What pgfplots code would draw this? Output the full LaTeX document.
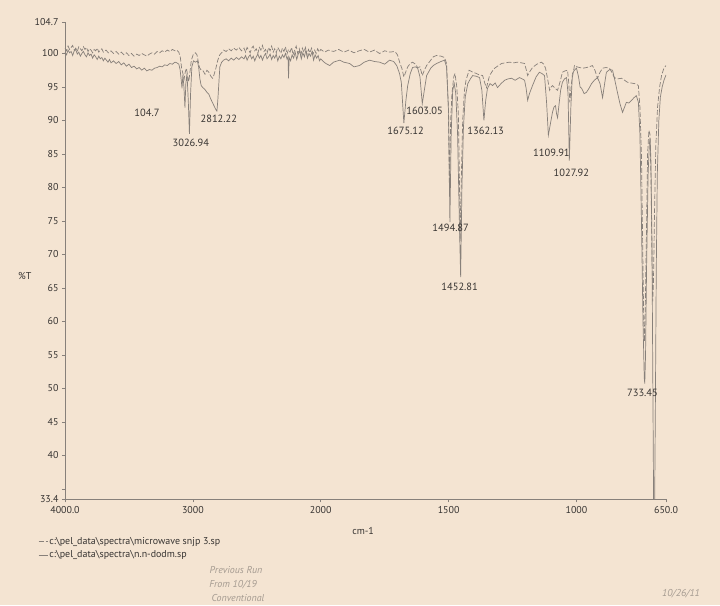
\documentclass[border=0pt]{standalone}
\usepackage{pgfplots}
\pgfplotsset{compat=1.18}
\usepackage{pgfplotstable}
\usepackage{fontspec}
\setmainfont{PT Sans}
\definecolor{bg}{RGB}{244,228,210}
\definecolor{tr}{RGB}{135,128,122}
\definecolor{txt}{RGB}{55,52,50}
\definecolor{hand}{RGB}{165,155,145}

\pgfplotstableread{
wn T
4000 100.2
3988 99.8
3976 100.5
3964 100.1
3952 100.3
3940 99.7
3928 100.4
3916 100.6
3904 99.9
3892 100.2
3880 99.6
3868 100.0
3856 100.3
3844 99.8
3832 99.5
3820 100.1
3808 99.7
3796 99.9
3784 99.3
3772 99.8
3760 99.5
3748 99.1
3736 99.6
3724 99.2
3712 99.4
3700 98.9
3688 99.3
3676 99.0
3664 98.7
3652 99.1
3640 98.6
3620 98.9
3600 98.5
3580 98.8
3560 98.3
3540 98.6
3520 98.1
3500 98.4
3480 97.9
3460 98.1
3440 97.7
3420 97.9
3400 97.5
3380 97.8
3360 97.4
3340 97.6
3320 97.5
3300 97.8
3280 97.9
3260 98.1
3240 98.0
3220 98.3
3200 98.2
3180 98.5
3160 98.4
3140 98.7
3125 98.6
3110 98.4
3100 97.6
3092 96.2
3085 94.8
3078 96.8
3070 95.0
3062 91.9
3055 95.5
3046 97.0
3036 93.0
3027 88.0
3018 94.0
3008 98.0
2995 98.9
2980 98.7
2965 98.9
2955 98.0
2945 96.2
2935 95.2
2922 94.9
2905 94.6
2890 94.2
2875 93.9
2860 93.2
2845 92.6
2830 92.0
2820 91.6
2812 91.4
2805 93.0
2797 95.5
2789 98.0
2775 98.7
2760 99.0
2740 99.2
2720 98.9
2700 99.3
2680 99.0
2660 99.4
2640 99.1
2620 99.5
2600 99.2
2588 99.7
2576 99.0
2564 99.5
2552 99.8
2540 99.2
2528 99.6
2516 98.9
2504 99.5
2492 99.9
2480 99.3
2468 99.7
2456 99.0
2444 99.6
2432 100.0
2420 99.2
2408 99.5
2396 99.9
2384 99.1
2372 99.7
2360 99.3
2348 99.9
2336 98.9
2324 99.6
2312 99.2
2300 99.8
2288 99.4
2276 100.0
2264 99.2
2256 99.5
2252 96.3
2247 99.4
2236 98.9
2224 99.8
2212 99.3
2200 100.2
2188 99.1
2176 99.9
2164 100.4
2152 99.2
2140 100.1
2128 99.5
2116 100.5
2104 99.3
2092 100.0
2080 99.6
2068 100.3
2056 99.0
2044 99.8
2032 99.3
2020 99.7
2010 98.9
2000 99.2
1990 98.8
1980 98.5
1965 98.2
1950 98.7
1926 99.0
1910 98.7
1887 98.5
1870 98.0
1848 98.2
1830 98.7
1809 99.0
1790 98.8
1770 98.7
1750 98.4
1731 99.0
1715 98.8
1703 98.2
1692 97.0
1685 95.7
1675 89.6
1667 93.0
1660 95.2
1650 97.0
1641 97.9
1630 98.0
1621 97.8
1612 96.5
1603 92.5
1595 94.5
1586 96.7
1570 97.8
1560 98.2
1547 98.5
1530 98.8
1516 99.0
1508 98.0
1500 91.0
1495 74.8
1490 88.0
1484 94.5
1478 95.5
1472 94.0
1465 88.0
1458 75.0
1453 66.6
1448 80.0
1442 89.0
1435 93.5
1425 95.5
1415 96.2
1406 96.7
1392 96.6
1379 96.4
1370 94.5
1362 90.0
1355 93.0
1348 94.8
1338 95.5
1328 95.2
1318 95.6
1309 94.9
1295 95.5
1281 96.0
1268 96.2
1254 96.3
1240 96.0
1223 96.4
1212 96.2
1203 96.0
1197 94.8
1191 93.0
1184 94.0
1172 95.2
1158 96.5
1145 97.2
1135 97.0
1125 96.7
1117 92.7
1110 87.8
1102 89.5
1094 91.2
1088 92.0
1082 92.2
1078 91.0
1074 90.4
1068 92.5
1062 94.5
1055 95.7
1047 96.2
1039 96.4
1033 94.0
1028 84.0
1022 92.0
1016 97.0
1008 97.5
1000 97.8
992 96.5
986 95.0
980 94.8
970 94.0
961 94.2
951 94.8
941 95.5
930 96.0
918 96.4
908 95.5
898 93.4
890 95.5
883 97.2
870 97.6
859 97.5
850 96.0
840 94.2
830 92.5
820 91.2
812 92.0
805 92.7
795 92.6
785 93.0
775 93.4
766 93.7
762 93.2
758 92.7
752 88.0
746 75.0
740 60.0
735 51.5
733 50.7
730 55.0
726 68.0
720 82.0
715 86.5
712 87.3
709 84.0
705 72.0
701 48.0
698 30.0
695 30.0
692 45.0
688 68.0
684 82.0
678 90.0
672 93.5
665 95.0
658 96.0
650 96.8
}\solid

\pgfplotstableread{
wn T
4000 100.8
3988 100.4
3976 101.1
3964 100.6
3952 100.9
3940 101.2
3928 100.5
3916 100.8
3904 100.3
3892 101.0
3880 100.7
3868 100.4
3856 101.0
3844 100.6
3832 100.9
3820 100.3
3808 100.7
3796 100.5
3784 100.1
3772 100.6
3760 100.4
3748 100.8
3736 100.2
3724 100.5
3712 100.7
3700 100.2
3680 100.5
3660 100.1
3640 100.4
3620 100.0
3600 100.3
3580 99.9
3560 100.2
3540 99.8
3520 100.1
3500 99.7
3480 100.0
3460 99.6
3440 99.9
3420 99.7
3400 100.0
3380 99.8
3360 99.6
3340 99.9
3320 100.1
3300 99.9
3280 100.3
3260 100.1
3240 100.4
3220 100.2
3200 100.5
3180 100.3
3160 100.6
3140 100.4
3125 100.5
3110 100.2
3098 99.4
3088 97.8
3078 97.0
3068 96.2
3060 97.2
3050 97.8
3040 96.5
3032 95.8
3024 97.0
3012 99.0
2998 99.8
2980 100.1
2968 99.8
2958 98.8
2948 97.9
2935 97.5
2920 97.4
2905 96.9
2890 97.5
2875 97.2
2860 96.6
2845 96.3
2835 96.8
2820 97.8
2805 99.0
2790 99.8
2775 100.1
2760 100.5
2740 100.3
2720 100.7
2700 100.4
2680 100.8
2660 100.5
2640 100.9
2620 100.4
2600 100.8
2588 100.2
2576 100.9
2564 100.5
2552 100.1
2540 100.8
2528 101.1
2516 100.4
2504 100.7
2492 100.0
2480 100.9
2468 100.5
2456 101.2
2444 100.3
2432 100.6
2420 100.0
2408 100.9
2396 100.4
2384 101.1
2372 100.2
2360 100.7
2348 100.1
2336 100.9
2324 100.5
2312 100.0
2300 100.8
2288 100.3
2276 101.0
2264 99.9
2252 100.6
2240 100.2
2228 100.9
2216 99.8
2204 100.5
2192 101.1
2180 100.0
2168 100.7
2156 99.7
2144 100.8
2132 100.2
2120 100.9
2108 99.8
2096 100.6
2084 100.1
2072 100.8
2060 99.9
2048 100.5
2036 100.0
2024 100.7
2012 100.2
2000 100.6
1985 100.2
1970 100.5
1950 100.3
1930 100.6
1910 100.2
1890 100.5
1870 100.1
1850 100.4
1830 100.6
1810 100.2
1790 100.5
1770 100.0
1750 100.4
1730 100.2
1710 100.3
1700 99.8
1690 98.5
1683 97.8
1675 96.5
1668 97.2
1660 98.0
1650 98.5
1641 98.7
1630 98.4
1621 97.9
1612 98.0
1603 96.7
1595 97.5
1586 98.2
1570 99.0
1560 99.5
1547 99.7
1530 99.6
1516 99.4
1508 98.5
1501 92.0
1497 80.0
1492 90.0
1487 94.0
1480 96.5
1475 97.0
1468 95.0
1462 91.0
1458 82.0
1455 72.0
1450 82.0
1445 90.0
1438 94.5
1432 96.0
1420 97.5
1405 97.2
1391 97.0
1380 96.8
1367 96.7
1358 95.5
1352 94.9
1346 95.8
1340 96.7
1330 97.3
1320 97.8
1305 98.2
1293 98.5
1278 98.6
1262 98.7
1245 98.6
1231 98.7
1215 98.6
1203 98.5
1196 97.5
1191 96.7
1184 97.2
1172 97.9
1155 98.4
1137 98.7
1128 98.4
1121 97.8
1112 96.0
1105 94.5
1099 95.0
1094 95.2
1084 94.8
1074 94.5
1064 95.8
1055 97.2
1045 97.4
1035 97.5
1030 95.5
1026 92.7
1020 95.5
1008 98.2
998 98.0
988 97.9
975 97.8
961 97.9
950 98.0
938 98.2
928 97.5
918 96.3
908 97.2
898 97.8
885 97.9
871 97.8
862 97.2
852 96.4
840 96.2
824 96.3
812 96.0
801 95.7
788 95.6
773 95.5
765 95.4
758 95.2
752 92.0
746 85.0
740 68.0
737 60.0
734 57.0
731 62.0
727 72.0
722 85.0
717 88.5
713 88.0
709 82.0
705 70.0
702 63.0
699 66.0
695 76.0
690 86.0
683 92.0
675 95.0
667 96.8
658 97.8
650 98.2
}\dashed

\begin{document}
\begin{tikzpicture}[x=1bp,y=1bp]
\fill[bg] (-65,-106) rectangle (655,499.5);
\begin{axis}[
  at={(0,0)}, anchor=south west,
  scale only axis, width=601bp, height=477.5bp,
  x coord trafo/.code={\pgfmathparse{#1>=2000 ? 4000-#1 : 6000-2*#1}},
  xmin=4000, xmax=650, ymin=33.4, ymax=104.7,
  axis lines*=left,
  axis line style={draw=tr, line width=0.6bp, -},
  xtick={4000,3000,2000,1500,1000,650},
  xticklabels={4000.0,3000,2000,1500,1000,650.0},
  ytick={33.4,35,40,45,50,55,60,65,70,75,80,85,90,95,100,104.7},
  yticklabels={33.4,,40,45,50,55,60,65,70,75,80,85,90,95,100,104.7},
  tick label style={font=\fontsize{10}{12}\selectfont, text=txt},
  tick style={draw=tr, line width=0.5bp},
  major tick length=3bp,
  tick align=outside,
  xlabel={cm-1},
  xlabel style={at={(axis description cs:0.496,-0.067)}, anchor=center, font=\fontsize{10}{12}\selectfont, text=txt},
  ylabel={\%T},
  ylabel style={rotate=-90, at={(axis description cs:-0.067,0.467)}, anchor=center, font=\fontsize{10}{12}\selectfont, text=txt},
  legend style={at={(axis description cs:-0.045,-0.076)}, anchor=north west, draw=none, fill=none,
    font=\fontsize{10}{12}\selectfont, text=txt, row sep=1.5bp, inner sep=0pt,
    nodes={inner sep=1.5bp}},
  legend cell align=left,
  legend image code/.code={\draw[#1] (0bp,0bp) -- (9bp,0bp);},
]
\addplot[tr, line width=0.7bp, dash pattern=on 5bp off 2bp] table[x=wn,y=T] {\dashed};
\addlegendentry{c:\textbackslash pel\_data\textbackslash spectra\textbackslash microwave snjp 3.sp}
\addplot[tr, line width=0.7bp] table[x=wn,y=T] {\solid};
\addlegendentry{c:\textbackslash pel\_data\textbackslash spectra\textbackslash n.n-dodm.sp}

\begin{scope}[every node/.style={font=\fontsize{10.5}{12}\selectfont, text=txt, inner sep=0pt}]
\node at (axis cs:3359,91.2) {104.7};
\node at (axis cs:3016,86.7) {3026.94};
\node at (axis cs:2797,90.3) {2812.22};
\node at (axis cs:1594,91.5) {1603.05};
\node at (axis cs:1668,88.5) {1675.12};
\node at (axis cs:1355,88.4) {1362.13};
\node at (axis cs:1098,85.2) {1109.91};
\node at (axis cs:1020,82.2) {1027.92};
\node at (axis cs:1492,73.9) {1494.87};
\node at (axis cs:1457,65.2) {1452.81};
\node at (axis cs:742,49.4) {733.45};
\end{scope}
\end{axis}
\begin{scope}[every node/.style={font=\fontsize{10}{11}\itshape, text=hand, inner sep=0pt}]
\node at (171,-71) {Previous Run};
\node at (168,-85) {From 10/19};
\node at (173,-99) {Conventional};
\node at (616,-94) {10/26/11};
\end{scope}
\pgfresetboundingbox
\path (-65,-106) rectangle (655,499.5);
\end{tikzpicture}
\end{document}
